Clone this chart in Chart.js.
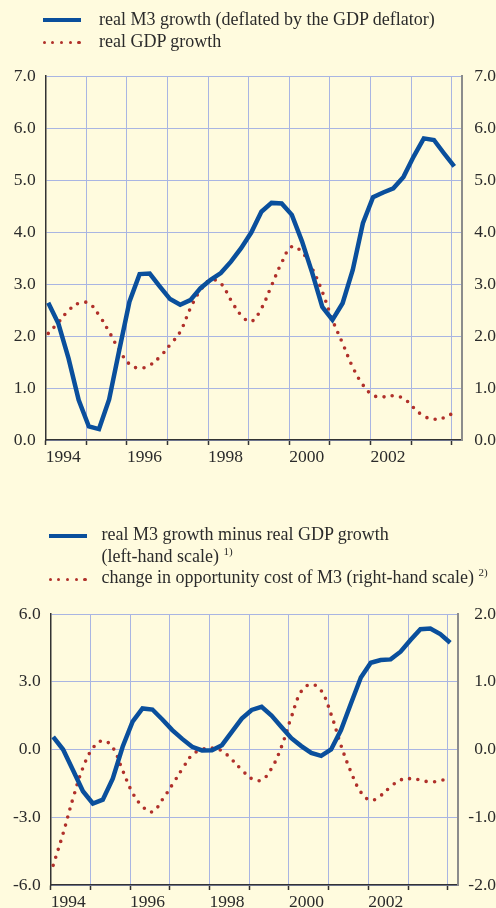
<!DOCTYPE html>
<html>
<head>
<meta charset="utf-8">
<script src="https://cdn.jsdelivr.net/npm/chart.js@4.4.1/dist/chart.umd.min.js"></script>
<style>
  body { margin: 0; background: #fffbde; width: 496px; height: 908px; overflow: hidden; position: relative;
         font-family: "Liberation Serif", "Times New Roman", serif; color: #2b2b2b; }
  canvas { position: absolute; left: 0; }
  #c1 { top: 0; }
  #c2 { top: 480px; }
  .legend { position: absolute; font-size: 18px; line-height: 21.5px; white-space: nowrap; }
  .key-line { position: absolute; height: 4px; background: #0a4f9c; }
  .key-dots { position: absolute; display: flex; justify-content: space-between; }
  .key-dots span { width: 3.2px; height: 3.2px; border-radius: 50%; background: #b0302a; }
  .fn { font-size: 11px; position: relative; top: -7px; line-height: 0; }
</style>
</head>
<body>
<canvas id="c1" width="496" height="480"></canvas>
<canvas id="c2" width="496" height="428"></canvas>

<div class="key-line" style="left:43px; top:18px; width:38px;"></div>
<div class="key-dots" style="left:42.5px; top:40.7px; width:38px;"><span></span><span></span><span></span><span></span><span></span></div>
<div class="legend" style="left:99px; top:9px;">real M3 growth (deflated by the GDP deflator)<br>real GDP growth</div>

<div class="key-line" style="left:49px; top:533.5px; width:38px;"></div>
<div class="key-dots" style="left:48.5px; top:577.7px; width:38px;"><span></span><span></span><span></span><span></span><span></span></div>
<div class="legend" style="left:101.5px; top:524px;">real M3 growth minus real GDP growth<br>(left-hand scale) <span class="fn">1)</span><br>change in opportunity cost of M3 (right-hand scale) <span class="fn">2)</span></div>

<script>
// quarterly observations
var quarters = [
  '1994Q1', '1994Q2', '1994Q3', '1994Q4', '1995Q1', '1995Q2', '1995Q3', '1995Q4',
  '1996Q1', '1996Q2', '1996Q3', '1996Q4', '1997Q1', '1997Q2', '1997Q3', '1997Q4',
  '1998Q1', '1998Q2', '1998Q3', '1998Q4', '1999Q1', '1999Q2', '1999Q3', '1999Q4',
  '2000Q1', '2000Q2', '2000Q3', '2000Q4', '2001Q1', '2001Q2', '2001Q3', '2001Q4',
  '2002Q1', '2002Q2', '2002Q3', '2002Q4', '2003Q1', '2003Q2', '2003Q3', '2003Q4',
  '2004Q1'
];

// years that get a label under the time axis
var yearLabels = [1994, 1996, 1998, 2000, 2002];

// upper chart (annual percentage changes)
var realM3 = [2.64, 2.24, 1.57, 0.77, 0.26, 0.21, 0.78, 1.73, 2.66, 3.19, 3.20, 2.95, 2.71, 2.60,
  2.69, 2.92, 3.08, 3.21, 3.43, 3.69, 3.99, 4.39, 4.56, 4.55, 4.33, 3.82, 3.22, 2.56, 2.31, 2.63,
  3.27, 4.17, 4.67, 4.76, 4.84, 5.06, 5.45, 5.80, 5.77, 5.51, 5.26];
var realGDP = [2.05, 2.26, 2.49, 2.63, 2.63, 2.40, 2.08, 1.73, 1.46, 1.38, 1.44, 1.60, 1.83, 2.08,
  2.53, 2.88, 3.08, 3.01, 2.69, 2.40, 2.28, 2.53, 2.97, 3.41, 3.72, 3.61, 3.30, 2.85, 2.31, 1.86,
  1.40, 1.06, 0.86, 0.83, 0.85, 0.80, 0.62, 0.46, 0.40, 0.43, 0.53];

// lower chart
var m3MinusGDP = [0.56, 0.00, -0.92, -1.85, -2.39, -2.22, -1.29, 0.12, 1.23, 1.82, 1.77, 1.33, 0.86,
  0.47, 0.12, -0.04, -0.03, 0.19, 0.78, 1.37, 1.75, 1.89, 1.50, 1.00, 0.50, 0.15, -0.15, -0.28, 0.00,
  0.86, 2.04, 3.19, 3.84, 3.96, 3.99, 4.33, 4.85, 5.33, 5.36, 5.11, 4.73];
var oppCostChange = [-1.71, -1.24, -0.72, -0.27, 0.02, 0.13, 0.03, -0.31, -0.64, -0.84, -0.92, -0.74,
  -0.52, -0.29, -0.08, 0.00, 0.02, -0.02, -0.15, -0.30, -0.43, -0.45, -0.28, 0.04, 0.48, 0.86, 0.96,
  0.87, 0.52, 0.06, -0.33, -0.63, -0.75, -0.68, -0.55, -0.45, -0.43, -0.45, -0.48, -0.46, -0.42];

var BLUE = '#0a4f9c';
var RED = '#b0302a';
var GRID = '#a9b5e2';
var INK = '#2b2b2b';
var FONT = { family: '"Liberation Serif", "Times New Roman", serif', size: 17.5 };

// quarter label -> position on the time axis
var quarterX = quarters.map(function (q) {
  return parseInt(q.slice(0, 4), 10) + (parseInt(q.slice(5), 10) - 1) / 4 + 0.0625;
});

function toPoints(values) {
  return values.map(function (v, i) { return { x: quarterX[i], y: v }; });
}

function blueLine(values, axis) {
  return { data: toPoints(values), yAxisID: axis, borderColor: BLUE, borderWidth: 4.5,
           pointRadius: 0, tension: 0, fill: false };
}

function dottedLine(values, axis) {
  return { data: toPoints(values), yAxisID: axis, borderColor: RED, borderWidth: 3.6,
           borderDash: [0, 8.4], borderCapStyle: 'round', pointRadius: 0, tension: 0.4, fill: false };
}

function yScale(pos, min, max, step, width, opt) {
  return {
    position: pos, min: min, max: max,
    ticks: { stepSize: step, padding: pos === 'left' ? 10 : opt.pad, color: INK, font: FONT,
             crossAlign: pos === 'left' ? 'near' : 'far',
             callback: function (v) { return v.toFixed(1); } },
    grid: pos === 'left' ? { color: GRID, lineWidth: 1, drawTicks: false }
                         : { drawOnChartArea: false, drawTicks: false },
    border: pos === 'left' ? { color: '#333', width: 1.5 } : { color: '#8c8c8c', width: 2 },
    afterFit: function (s) { s.width = width; }
  };
}

function buildChart(id, datasets, opt) {
  return new Chart(document.getElementById(id), {
    type: 'line',
    data: { datasets: datasets },
    options: {
      responsive: false,
      animation: false,
      events: [],
      layout: { padding: { top: opt.top, left: 0, right: 0, bottom: 0 } },
      plugins: { legend: { display: false }, tooltip: { enabled: false } },
      scales: {
        x: {
          type: 'linear', min: 1994, max: opt.xMax,
          ticks: { stepSize: 1, includeBounds: false, autoSkip: false, maxRotation: 0, align: 'start',
                   padding: 2, color: INK, font: FONT,
                   callback: function (v) { return yearLabels.indexOf(v) >= 0 ? String(v) : ''; } },
          grid: { color: GRID, lineWidth: 1, tickLength: 5, tickColor: '#333', tickWidth: 1.5 },
          border: { color: '#333', width: 1.5 },
          afterFit: function (s) { s.height = opt.xHeight; }
        },
        yL: yScale('left', opt.lMin, opt.lMax, opt.lStep, opt.leftW, opt),
        yR: yScale('right', opt.rMin, opt.rMax, opt.rStep, opt.rightW, opt)
      }
    }
  });
}

buildChart('c1', [blueLine(realM3, 'yL'), dottedLine(realGDP, 'yR')], {
  top: 76, xMax: 2004.246, xHeight: 40, leftW: 45.7, rightW: 34.3, pad: 10,
  lMin: 0, lMax: 7, lStep: 1, rMin: 0, rMax: 7, rStep: 1
});

buildChart('c2', [blueLine(m3MinusGDP, 'yL'), dottedLine(oppCostChange, 'yR')], {
  top: 134, xMax: 2004.267, xHeight: 23, leftW: 50.7, rightW: 37.7, pad: 7.5,
  lMin: -6, lMax: 6, lStep: 3, rMin: -2, rMax: 2, rStep: 1
});
</script>
</body>
</html>
